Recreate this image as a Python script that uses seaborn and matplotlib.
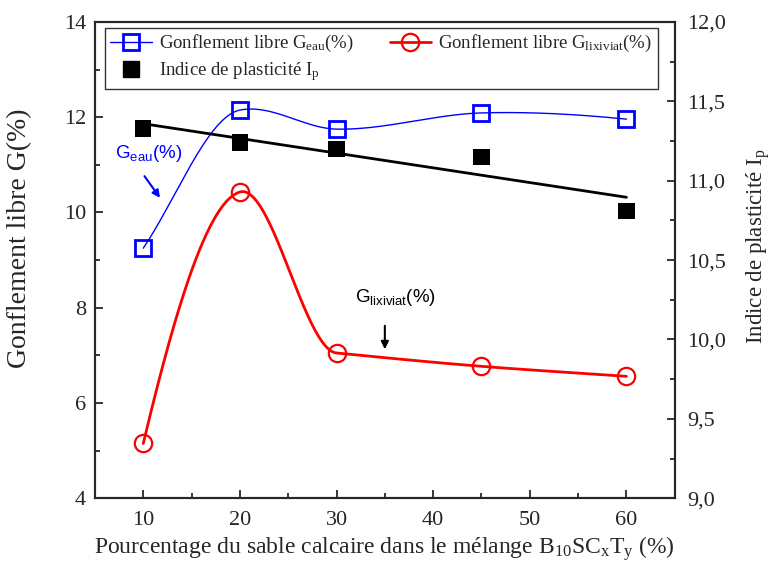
import numpy as np
import pandas as pd
import matplotlib
matplotlib.use("Agg")
import matplotlib.pyplot as plt
from matplotlib.ticker import MultipleLocator, FuncFormatter
from matplotlib.lines import Line2D
import seaborn as sns

# data
sable = [10, 20, 30, 45, 60]
g_eau = [9.25, 12.15, 11.75, 12.09, 11.96]
g_lixiviat = [5.15, 10.43, 7.05, 6.77, 6.56]
ip = [11.33, 11.24, 11.20, 11.15, 10.81]

# end slopes used only to shape the smooth connecting curves
pente_eau = [0.30, 0.04, -0.004, 0.006, -0.02]
pente_lix = [0.85, 0.06, -0.02, -0.016, -0.014]


def hermite(x, y, m, n=80):
    # piecewise cubic Hermite curve through the measured points
    xs_all, ys_all = [], []
    for i in range(len(x) - 1):
        h = x[i + 1] - x[i]
        t = np.linspace(0, 1, n)
        h00 = 2 * t ** 3 - 3 * t ** 2 + 1
        h10 = t ** 3 - 2 * t ** 2 + t
        h01 = -2 * t ** 3 + 3 * t ** 2
        h11 = t ** 3 - t ** 2
        xs_all.append(x[i] + t * h)
        ys_all.append(h00 * y[i] + h10 * h * m[i] + h01 * y[i + 1] + h11 * h * m[i + 1])
    return np.concatenate(xs_all), np.concatenate(ys_all)


sns.set_style("ticks")
plt.rcParams["font.family"] = ["Liberation Serif", "DejaVu Serif"]
plt.rcParams["mathtext.fontset"] = "custom"
plt.rcParams["mathtext.rm"] = "Liberation Serif"
plt.rcParams["mathtext.it"] = "Liberation Serif"
plt.rcParams["mathtext.sf"] = "Liberation Sans"
plt.rcParams["axes.linewidth"] = 1.5

df = pd.DataFrame({"sable": sable, "g_eau": g_eau, "g_lix": g_lixiviat, "ip": ip})
xe, ye = hermite(sable, g_eau, pente_eau)
xl, yl = hermite(sable, g_lixiviat, pente_lix)
courbe_eau = pd.DataFrame({"x": xe, "y": ye})
courbe_lix = pd.DataFrame({"x": xl, "y": yl})

fig, ax = plt.subplots(figsize=(7.72, 5.63), dpi=100)
fig.subplots_adjust(left=0.123, right=0.874, top=0.961, bottom=0.115)

sns.lineplot(data=courbe_eau, x="x", y="y", color="blue", lw=1, sort=False, ax=ax)
sns.lineplot(data=courbe_lix, x="x", y="y", color="red", lw=2, sort=False, ax=ax)
ax.plot(df["sable"], df["g_eau"], ls="none", marker="s", ms=12, mfc="none",
        mec="blue", mew=2)
ax.plot(df["sable"], df["g_lix"], ls="none", marker="o", ms=12.5, mfc="none",
        mec="red", mew=1.6)

ax2 = ax.twinx()
sns.regplot(data=df, x="sable", y="ip", ci=None, ax=ax2, color="black",
            marker="s", scatter_kws={"s": 140, "alpha": 1, "edgecolor": "none"},
            line_kws={"lw": 2})

ax.set_xlim(5, 65)
ax.set_ylim(4, 14)
ax2.set_ylim(9, 12)
ax.xaxis.set_major_locator(MultipleLocator(10))
ax.xaxis.set_minor_locator(MultipleLocator(5))
ax.yaxis.set_major_locator(MultipleLocator(2))
ax.yaxis.set_minor_locator(MultipleLocator(1))
ax2.yaxis.set_major_locator(MultipleLocator(0.5))
ax2.yaxis.set_minor_locator(MultipleLocator(0.25))
ax2.yaxis.set_major_formatter(FuncFormatter(lambda v, p: f"{v:.1f}".replace(".", ",")))

for a in (ax, ax2):
    a.tick_params(which="major", direction="in", length=6, width=1.3, labelsize=16)
    a.tick_params(which="minor", direction="in", length=3.5, width=1.3)
ax.tick_params(axis="y", right=False, pad=6.5)
ax.tick_params(axis="x", pad=9)
ax2.tick_params(axis="y", left=False, pad=9)

ax.set_xlabel(r"Pourcentage du sable calcaire dans le mélange B$_{10}$SC$_{x}$T$_{y}$ (%)",
              fontsize=17, labelpad=3)
ax.set_ylabel("Gonflement libre G(%)", fontsize=20)
ax.yaxis.set_label_coords(-0.108, 0.546)
ax2.set_ylabel(r"Indice de plasticité I$_{p}$", fontsize=16.5)
ax2.yaxis.set_label_coords(1.12, 0.53)

# annotations
ax.annotate("", xy=(11.9, 10.26), xytext=(9.96, 10.81),
            arrowprops=dict(arrowstyle="-|>", color="blue", lw=1.5, mutation_scale=11))
ax.text(7.07, 11.14, r"$\mathsf{G_{eau}}$(%)", color="blue", fontsize=13.5,
        family="Liberation Sans")
ax.annotate("", xy=(35, 7.07), xytext=(35, 7.68),
            arrowprops=dict(arrowstyle="-|>", color="black", lw=1.5, mutation_scale=11))
ax.text(31.86, 8.12, r"$\mathsf{G_{lixiviat}}$(%)", color="black", fontsize=13.5,
        family="Liberation Sans")

handles = [
    Line2D([], [], color="blue", lw=1, marker="s", ms=12, mfc="none", mec="blue", mew=2),
    Line2D([], [], color="red", lw=2, marker="o", ms=12.5, mfc="none", mec="red", mew=1.6),
    Line2D([], [], ls="none", color="black", marker="s", ms=12),
]
labels = [r"Gonflement libre G$_{eau}$(%)",
          r"Gonflement libre G$_{lixiviat}$(%)",
          r"Indice de plasticité I$_{p}$"]
leg = ax2.legend([handles[0], handles[2], handles[1]], [labels[0], labels[2], labels[1]],
                 ncol=2, loc="upper left", bbox_to_anchor=(0.017, 0.988),
                 fontsize=13.5, frameon=True, fancybox=False, handlelength=2.2,
                 columnspacing=1.9, borderaxespad=0, handletextpad=0.4,
                 borderpad=0.3, labelspacing=0.3)
leg.get_frame().set_edgecolor("black")
leg.get_frame().set_linewidth(1)

fig.savefig("out.png", dpi=100)
